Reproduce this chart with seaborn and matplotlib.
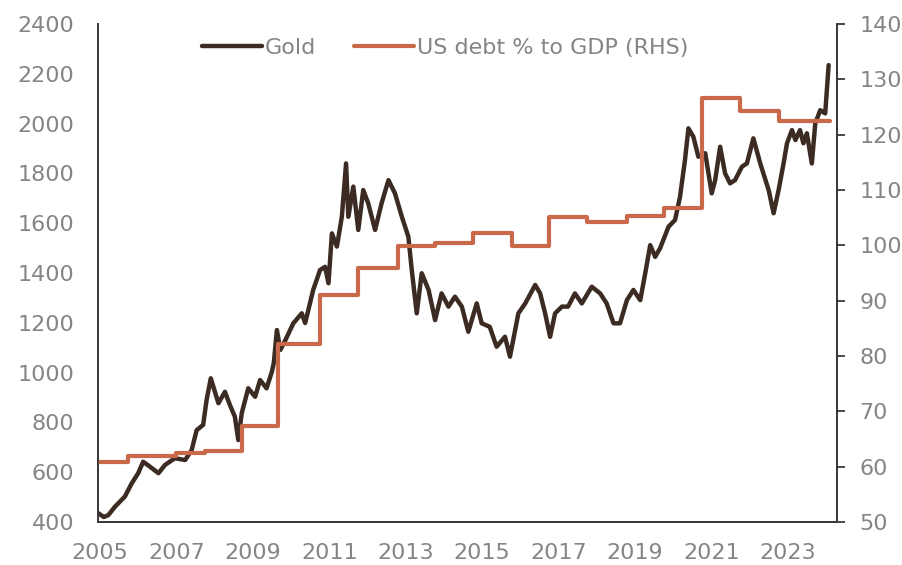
import numpy as np
import pandas as pd
import seaborn as sns
import matplotlib
matplotlib.use("Agg")
import matplotlib.pyplot as plt

# gold price (USD/oz)
gold_years = [2004.96, 2005.10, 2005.22, 2005.39, 2005.65, 2005.83, 2006.00, 2006.13, 2006.31, 2006.53,
              2006.70, 2006.96, 2007.23, 2007.40, 2007.53, 2007.70, 2007.79, 2007.90, 2008.10, 2008.27,
              2008.40, 2008.53, 2008.62, 2008.71, 2008.88, 2009.06, 2009.19, 2009.36, 2009.50, 2009.55,
              2009.63, 2009.72, 2009.85, 2010.06, 2010.28, 2010.37, 2010.58, 2010.76, 2010.89, 2010.98,
              2011.07, 2011.20, 2011.33, 2011.44, 2011.50, 2011.63, 2011.76, 2011.89, 2012.02, 2012.20,
              2012.37, 2012.55, 2012.72, 2012.90, 2013.07, 2013.16, 2013.29, 2013.42, 2013.60, 2013.77,
              2013.94, 2014.12, 2014.29, 2014.47, 2014.64, 2014.86, 2014.99, 2015.20, 2015.38, 2015.60,
              2015.73, 2015.95, 2016.13, 2016.39, 2016.52, 2016.65, 2016.78, 2016.91, 2017.09, 2017.25,
              2017.43, 2017.61, 2017.87, 2018.09, 2018.26, 2018.44, 2018.61, 2018.79, 2018.96, 2019.14,
              2019.27, 2019.40, 2019.53, 2019.66, 2019.88, 2020.05, 2020.18, 2020.31, 2020.40, 2020.53,
              2020.66, 2020.84, 2021.01, 2021.10, 2021.23, 2021.36, 2021.49, 2021.62, 2021.80, 2021.93,
              2022.10, 2022.28, 2022.50, 2022.63, 2022.76, 2022.89, 2022.98, 2023.11, 2023.20, 2023.32,
              2023.41, 2023.50, 2023.63, 2023.72, 2023.85, 2023.98, 2024.07]
gold_values = [435, 420, 428, 461, 502, 555, 596, 642, 622, 596,
               629, 656, 649, 689, 769, 790, 890, 977, 877, 923,
               870, 823, 729, 837, 937, 903, 970, 937, 1004, 1040,
               1171, 1091, 1130, 1198, 1238, 1199, 1332, 1412, 1425, 1359,
               1559, 1506, 1626, 1840, 1626, 1747, 1573, 1733, 1680, 1573,
               1680, 1773, 1720, 1626, 1546, 1412, 1238, 1399, 1332, 1211,
               1318, 1265, 1305, 1265, 1164, 1278, 1198, 1184, 1104, 1144,
               1064, 1238, 1278, 1352, 1318, 1238, 1144, 1238, 1265, 1265,
               1318, 1278, 1345, 1318, 1278, 1198, 1198, 1291, 1332, 1291,
               1399, 1512, 1465, 1500, 1586, 1613, 1706, 1854, 1981, 1947,
               1867, 1881, 1720, 1773, 1907, 1800, 1760, 1773, 1827, 1840,
               1941, 1840, 1733, 1640, 1733, 1840, 1921, 1974, 1934, 1974,
               1921, 1961, 1840, 2001, 2054, 2041, 2235]

# US debt % of GDP (RHS), step changes
debt_years = [2004.94, 2005.74, 2007.00, 2007.75, 2008.71, 2009.67, 2010.76, 2011.76, 2012.81, 2013.77,
              2014.77, 2015.78, 2016.74, 2017.74, 2018.79, 2019.75, 2020.75, 2021.75, 2022.76, 2024.10]
debt_values = [60.9, 61.9, 62.4, 62.9, 67.3, 82.2, 91.0, 95.9, 99.8, 100.4,
               102.3, 99.8, 105.2, 104.3, 105.3, 106.7, 126.6, 124.2, 122.4, 122.4]

year_ticks = list(range(2005, 2024, 2))

gold = pd.DataFrame({"year": gold_years, "value": gold_values})
debt = pd.DataFrame({"year": debt_years, "value": debt_values})

sns.set_style("white")
plt.rcParams["font.family"] = ["DejaVu Sans"]

gold_col = "#3b2b22"
debt_col = "#c9694a"
txt_col = "#858585"
spine_col = "#3a3a3a"
fs = 16

fig = plt.figure(figsize=(9.02, 5.65), dpi=100)
ax = fig.add_axes([0.1083, 0.0761, 0.8197, 0.8814])
ax2 = ax.twinx()

sns.lineplot(data=gold, x="year", y="value", ax=ax, color=gold_col, lw=3.2, label="Gold", legend=False)
sns.lineplot(data=debt, x="year", y="value", ax=ax2, color=debt_col, lw=3.0,
             drawstyle="steps-post", label="US debt % to GDP (RHS)", legend=False)

ax.set_xlim(2004.94, 2024.29)
ax.set_ylim(400, 2400)
ax2.set_ylim(50, 140)
ax.set_xticks(year_ticks)
ax.set_yticks(range(400, 2401, 200))
ax2.set_yticks(range(50, 141, 10))
ax.set_xlabel("")
ax.set_ylabel("")
ax2.set_ylabel("")

for a in (ax, ax2):
    a.spines["top"].set_visible(False)
    for s in ("left", "right", "bottom"):
        a.spines[s].set_color(spine_col)
        a.spines[s].set_linewidth(1.3)

ax.tick_params(axis="y", length=0, pad=17, labelsize=fs, labelcolor=txt_col)
ax.tick_params(axis="x", length=0, pad=15, labelsize=fs, labelcolor=txt_col)
ax2.tick_params(axis="y", length=6, width=1.3, color=spine_col, direction="out",
                pad=10, labelsize=fs, labelcolor=txt_col)

h1, l1 = ax.get_legend_handles_labels()
h2, l2 = ax2.get_legend_handles_labels()
leg = ax2.legend(h1 + h2, l1 + l2, loc="upper center", bbox_to_anchor=(0.47, 1.012), ncol=2,
                 frameon=False, fontsize=fs, handlelength=2.7, handletextpad=0.15,
                 columnspacing=1.7)
for t in leg.get_texts():
    t.set_color(txt_col)

fig.savefig("out.png", dpi=100)
